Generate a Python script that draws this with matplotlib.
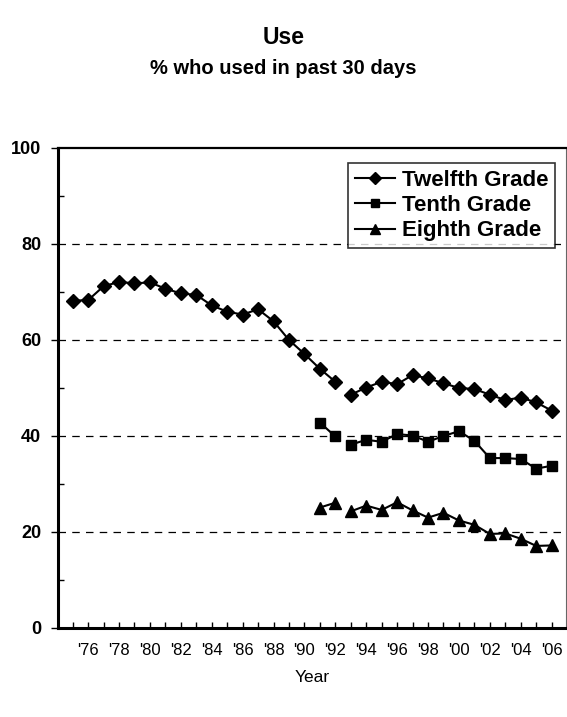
import numpy as np
import matplotlib
matplotlib.use('Agg')
import matplotlib.pyplot as plt
from matplotlib.ticker import MultipleLocator

plt.rcParams['font.family'] = ['Liberation Sans', 'DejaVu Sans']

# 30-day prevalence, % (survey method change between 1992 and 1993)
years = list(range(1975, 2007))
twelfth = [68.2, 68.3, 71.2, 72.1, 71.8, 72.0, 70.7, 69.7, 69.4, 67.2,
           65.9, 65.3, 66.4, 63.9, 60.0, 57.1, 54.0, 51.3,
           48.6, 50.1, 51.3, 50.8, 52.7, 52.0, 51.0, 50.0, 49.8, 48.6,
           47.5, 48.0, 47.0, 45.3]
tenth = [None] * 16 + [42.8, 39.9, 38.2, 39.2, 38.8, 40.4, 40.1, 38.8,
                       40.0, 41.0, 39.0, 35.4, 35.4, 35.2, 33.2, 33.8]
eighth = [None] * 16 + [25.1, 26.1, 24.3, 25.5, 24.6, 26.2, 24.5, 23.0,
                        24.0, 22.4, 21.5, 19.6, 19.7, 18.6, 17.1, 17.2]
series = [('Twelfth Grade', twelfth, 'D', 7.5),
          ('Tenth Grade', tenth, 's', 7.5),
          ('Eighth Grade', eighth, '^', 9)]
break_year = 1993

fig = plt.figure(figsize=(5.67, 7.17), dpi=100)
ax = fig.add_axes([58 / 567, 1 - 628 / 717, 508 / 567, 480 / 717])

yrs = np.array(years)
for name, vals, mk, ms in series:
    v = np.array([np.nan if x is None else x for x in vals])
    before = yrs < break_year
    ax.plot(yrs[before], v[before], color='black', lw=1.5, marker=mk,
            ms=ms, label=name)
    ax.plot(yrs[~before], v[~before], color='black', lw=1.5, marker=mk,
            ms=ms)

ax.set_xlim(1974.05, 2006.93)
ax.set_ylim(0, 100)

for y in [20, 40, 60, 80]:
    ax.axhline(y, color='black', lw=0.9, dashes=(6, 5), zorder=0)

ax.set_xticks([y for y in years if y % 2 == 0])
ax.set_xticks([y for y in years if y % 2 == 1], minor=True)
ax.set_xticklabels(["'" + str(y)[2:] for y in years if y % 2 == 0])
ax.tick_params(axis='x', which='both', direction='in', length=4, width=1,
               pad=11, labelsize=12)

ax.yaxis.set_major_locator(MultipleLocator(20))
ax.yaxis.set_minor_locator(MultipleLocator(10))
ax.tick_params(axis='y', which='major', direction='out', length=5, width=1,
               pad=7, labelsize=13)
ax.tick_params(axis='y', which='minor', direction='in', length=4, width=1)
for lab in ax.get_yticklabels():
    lab.set_fontweight('bold')

ax.spines['left'].set_linewidth(2.2)
ax.spines['bottom'].set_linewidth(2.2)
ax.spines['top'].set_linewidth(1.6)
ax.spines['right'].set_linewidth(0.8)
ax.spines['right'].set_color('#666666')

leg = ax.legend(loc='upper right', bbox_to_anchor=(0.978, 0.969),
                prop={'weight': 'bold', 'size': 16}, frameon=True,
                fancybox=False, edgecolor='black', handlelength=1.8,
                handletextpad=0.3, labelspacing=0.2, borderpad=0.3,
                borderaxespad=0, markerscale=0.75)
leg.get_frame().set_linewidth(1.2)

fig.text(0.5, 1 - 37 / 717, 'Use', ha='center', va='center',
         fontsize=16.5, fontweight='bold')
fig.text(0.5, 1 - 68 / 717, '% who used in past 30 days', ha='center',
         va='center', fontsize=14.5, fontweight='bold')
fig.text(312 / 567, 1 - 678 / 717, 'Year', ha='center', va='center',
         fontsize=12.5)

fig.savefig('out.png', dpi=100)
